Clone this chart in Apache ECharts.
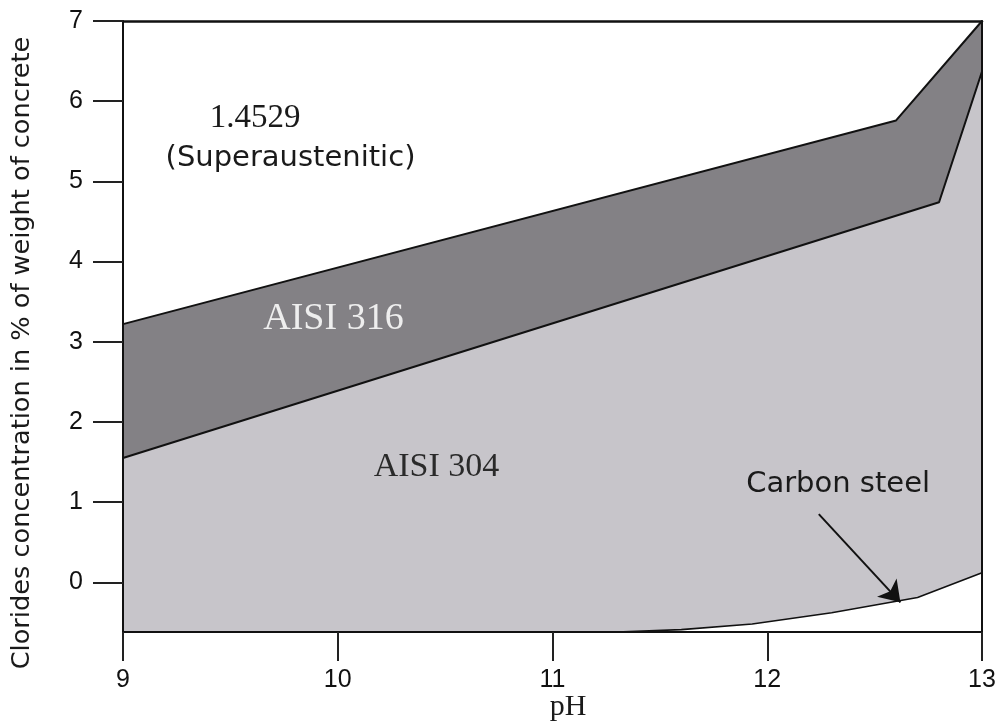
<!DOCTYPE html>
<html>
<head>
<meta charset="utf-8">
<script src="https://cdn.jsdelivr.net/npm/echarts@6/dist/echarts.min.js"></script>
<style>html,body{margin:0;padding:0;background:#fff}#c{width:1001px;height:722px}</style>
</head>
<body>
<div id="c"></div>
<script>
// Boundaries: [pH, chloride %]
var upperBoundary = [[9, 3.22], [12.6, 5.76], [13, 7]];          // 1.4529 / AISI 316
var middleBoundary = [[9, 1.55], [12.8, 4.74], [13, 6.37]];      // AISI 316 / AISI 304
var carbonBoundary = [[9, -0.62], [11.3, -0.62], [11.6, -0.59], [11.93, -0.52], [12.3, -0.38], [12.7, -0.19], [13, 0.12]];
var xTicks = [9, 10, 11, 12, 13];
var yTicks = [0, 1, 2, 3, 4, 5, 6, 7];
var regionLabels = [
  {text: '1.4529', x: 9.615, y: 5.79, serif: true, size: 33, color: '#1a1a1a'},
  {text: '(Superaustenitic)', x: 9.78, y: 5.29, serif: false, size: 29, color: '#1a1a1a'},
  {text: 'AISI 316', x: 9.98, y: 3.28, serif: true, size: 38, color: '#eeeeee'},
  {text: 'AISI 304', x: 10.46, y: 1.44, serif: true, size: 34, color: '#2a2a2a'},
  {text: 'Carbon steel', x: 12.33, y: 1.22, serif: false, size: 29, color: '#1a1a1a'}
];
var arrowFrom = [12.24, 0.85];
var arrowTo = [12.62, -0.25];

var chart = echarts.init(document.getElementById('c'), null, {renderer: 'canvas'});
var SANS = 'DejaVu Sans';
var SERIF = 'Liberation Serif';
var TICKF = 'Liberation Sans';

var option = {
  animation: false,
  backgroundColor: '#fff',
  grid: {left: 123, right: 19, top: 21, bottom: 90, show: false},
  xAxis: [{
    type: 'value', min: 9, max: 13, interval: 1, position: 'bottom', z: 10,
    axisLine: {show: true, onZero: false, lineStyle: {color: '#111', width: 2}},
    axisTick: {show: true, inside: false, length: 29, lineStyle: {color: '#222', width: 2}},
    axisLabel: {fontFamily: TICKF, fontSize: 25, color: '#111', margin: 36,
      formatter: function (v) { return xTicks.indexOf(v) >= 0 ? String(v) : ''; }},
    splitLine: {show: false}
  }, {
    type: 'value', min: 9, max: 13, position: 'top', z: 10,
    axisLine: {show: true, onZero: false, lineStyle: {color: '#111', width: 2.5}},
    axisTick: {show: false}, axisLabel: {show: false}, splitLine: {show: false}
  }],
  yAxis: [{
    type: 'value', min: -0.62, max: 7, position: 'left', z: 10,
    axisLine: {show: true, onZero: false, lineStyle: {color: '#111', width: 2}},
    axisTick: {show: true, inside: false, length: 30, customValues: yTicks, lineStyle: {color: '#222', width: 2}},
    axisLabel: {fontFamily: TICKF, fontSize: 25, color: '#111', margin: 40, customValues: yTicks},
    splitLine: {show: false}
  }, {
    type: 'value', min: -0.62, max: 7, position: 'right', z: 10,
    axisLine: {show: true, onZero: false, lineStyle: {color: '#111', width: 2}},
    axisTick: {show: false}, axisLabel: {show: false}, splitLine: {show: false}
  }],
  series: [{
    type: 'line', data: upperBoundary, z: 2, symbol: 'none',
    lineStyle: {color: '#111', width: 2},
    areaStyle: {color: '#838185', opacity: 1, origin: 'start'}
  }, {
    type: 'line', data: middleBoundary, z: 3, symbol: 'none',
    lineStyle: {color: '#111', width: 2},
    areaStyle: {color: '#c7c5ca', opacity: 1, origin: 'start'}
  }, {
    type: 'line', data: carbonBoundary, z: 4, symbol: 'none',
    lineStyle: {color: '#111', width: 1.6},
    areaStyle: {color: '#ffffff', opacity: 1, origin: 'start'},
    markLine: {
      silent: true, symbol: ['none', 'arrow'], symbolSize: 20,
      label: {show: false},
      lineStyle: {color: '#111', width: 2, type: 'solid', opacity: 1},
      itemStyle: {color: '#111'},
      data: [[{coord: arrowFrom}, {coord: arrowTo}]]
    }
  }, {
    type: 'scatter', z: 6, symbolSize: 0, silent: true,
    itemStyle: {opacity: 1},
    data: regionLabels.map(function (d) {
      return {
        value: [d.x, d.y],
        label: {show: true, position: 'inside', formatter: d.text,
          fontFamily: d.serif ? SERIF : SANS, fontSize: d.size, color: d.color, opacity: 1}
      };
    })
  }],
  graphic: [{
    type: 'text', x: 22, y: 353, rotation: Math.PI / 2, z: 20,
    style: {text: 'Clorides concentration in % of weight of concrete', font: '25.6px "DejaVu Sans"',
      fill: '#1a1a1a', align: 'center', verticalAlign: 'middle'}
  }, {
    type: 'text', x: 568, y: 707, z: 20,
    style: {text: 'pH', font: '30px "Liberation Serif"', fill: '#1a1a1a', align: 'center', verticalAlign: 'middle'}
  }]
};
chart.setOption(option);
</script>
</body>
</html>
